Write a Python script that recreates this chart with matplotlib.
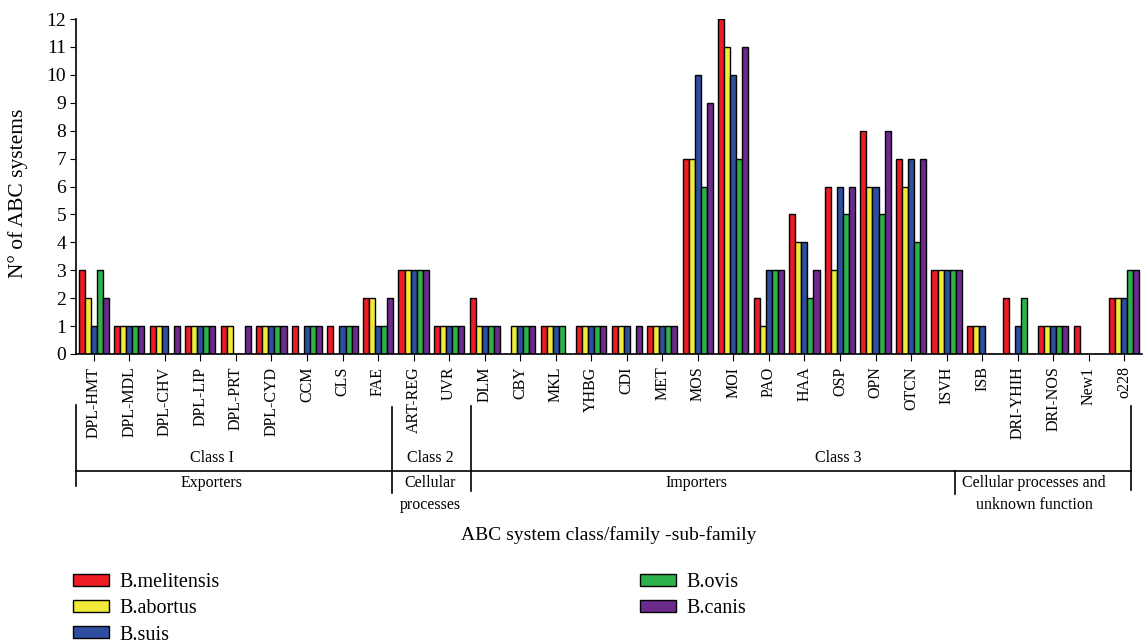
import numpy as np
import matplotlib
matplotlib.use("Agg")
import matplotlib.pyplot as plt
from matplotlib.patches import Patch
from matplotlib.transforms import blended_transform_factory

plt.rcParams['font.family'] = ['Liberation Serif', 'DejaVu Serif']

subfamilies = ['DPL-HMT', 'DPL-MDL', 'DPL-CHV', 'DPL-LIP', 'DPL-PRT', 'DPL-CYD',
               'CCM', 'CLS', 'FAE', 'ART-REG', 'UVR', 'DLM', 'CBY', 'MKL', 'YHBG',
               'CDI', 'MET', 'MOS', 'MOI', 'PAO', 'HAA', 'OSP', 'OPN', 'OTCN',
               'ISVH', 'ISB', 'DRI-YHIH', 'DRI-NOS', 'New1', 'o228']

melitensis = [3, 1, 1, 1, 1, 1, 1, 1, 2, 3, 1, 2, 0, 1, 1, 1, 1, 7, 12, 2, 5, 6, 8, 7, 3, 1, 2, 1, 1, 2]
abortus    = [2, 1, 1, 1, 1, 1, 0, 0, 2, 3, 1, 1, 1, 1, 1, 1, 1, 7, 11, 1, 4, 3, 6, 6, 3, 1, 0, 1, 0, 2]
suis       = [1, 1, 1, 1, 0, 1, 1, 1, 1, 3, 1, 1, 1, 1, 1, 1, 1, 10, 10, 3, 4, 6, 6, 7, 3, 1, 1, 1, 0, 2]
ovis       = [3, 1, 0, 1, 0, 1, 1, 1, 1, 3, 1, 1, 1, 1, 1, 0, 1, 6, 7, 3, 2, 5, 5, 4, 3, 0, 2, 1, 0, 3]
canis      = [2, 1, 1, 1, 1, 1, 1, 1, 2, 3, 1, 1, 1, 0, 1, 1, 1, 9, 11, 3, 3, 6, 8, 7, 3, 0, 0, 1, 0, 3]

species = ['B.melitensis', 'B.abortus', 'B.suis', 'B.ovis', 'B.canis']
colors = ['#ED1C24', '#F2EA3A', '#2E4FA0', '#2DB14A', '#6B2A8C']

# class brackets (boundaries in x units) and labels
class_names = ['Class I', 'Class 2', 'Class 3']
class_pos = [3.32, 9.48, 20.96]
func_names = ['Exporters', 'Cellular\nprocesses', 'Importers', 'Cellular processes and\nunknown function']
func_pos = [3.32, 9.48, 16.97, 26.46]

fig = plt.figure(figsize=(11.46, 6.44), dpi=100)
ax = fig.add_axes([76/1146, 290/644, 1066/1146, 335/644])

x = np.arange(len(subfamilies))
w = 0.17
series = [melitensis, abortus, suis, ovis, canis]
for i, (vals, c) in enumerate(zip(series, colors)):
    ax.bar(x + (i - 2) * w, vals, w, color=c, edgecolor='black', linewidth=1.0)

ax.set_xlim(-0.5, len(subfamilies) - 0.5)
ax.set_ylim(0, 12)
ax.set_yticks(range(13))
ax.set_xticks(x)
ax.set_xticklabels(subfamilies, rotation=90, fontsize=11.5)
ax.tick_params(axis='y', labelsize=14, length=4, direction='out', pad=3)
ax.tick_params(axis='x', length=5, direction='out', pad=4)
for s in ['top', 'right']:
    ax.spines[s].set_visible(False)
for s in ['left', 'bottom']:
    ax.spines[s].set_linewidth(1.2)

ax.text(-0.054, 0.48, 'N\u00b0 of ABC systems', transform=ax.transAxes, rotation=90,
        ha='center', va='center', fontsize=15.5)

tr = blended_transform_factory(ax.transData, ax.transAxes)
kw = dict(color='black', lw=1.2, transform=tr, clip_on=False)
ax.plot([-0.5, -0.5], [-0.152, -0.394], **kw)
ax.plot([8.4, 8.4], [-0.158, -0.415], **kw)
ax.plot([10.62, 10.62], [-0.155, -0.410], **kw)
ax.plot([29.2, 29.2], [-0.155, -0.407], **kw)
ax.plot([24.24, 24.24], [-0.349, -0.418], **kw)
ax.plot([-0.5, 29.2], [-0.349, -0.349], **kw)

for name, p in zip(class_names, class_pos):
    ax.text(p, -0.335, name, transform=tr, ha='center', va='bottom', fontsize=11.5)
for name, p in zip(func_names, func_pos):
    ax.text(p, -0.362, name, transform=tr, ha='center', va='top', fontsize=11.5,
            linespacing=1.5)

ax.text(0.5, -0.54, 'ABC system class/family -sub-family', transform=ax.transAxes,
        ha='center', va='center', fontsize=14)

handles = [Patch(facecolor=c, edgecolor='black', linewidth=1.0) for c in colors]
leg_kw = dict(loc='upper left', frameon=False, borderpad=0, borderaxespad=0,
              handlelength=1.8, handleheight=0.55, handletextpad=0.5,
              labelspacing=0.36, fontsize=14.5)
fig.legend(handles[:3], species[:3], bbox_to_anchor=(73/1146, 1 - 573/644), **leg_kw)
fig.legend(handles[3:], species[3:], bbox_to_anchor=(640/1146, 1 - 573/644), **leg_kw)

fig.savefig('out.png', dpi=100)
